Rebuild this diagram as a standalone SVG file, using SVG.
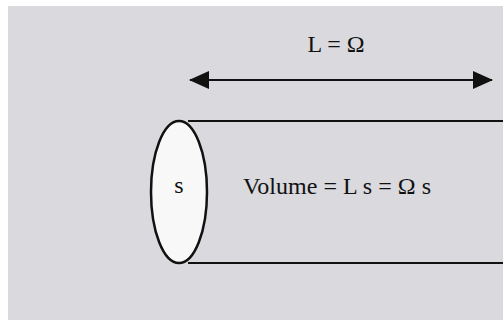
<svg xmlns="http://www.w3.org/2000/svg" width="503" height="320" viewBox="0 0 503 320">
<style>
.t{font-family:"Liberation Serif","Times New Roman",serif;font-size:24px;fill:#111}
.ln{stroke:#111;stroke-width:2;fill:none}
</style>
<defs>
<marker id="ah2" markerWidth="20" markerHeight="18" refX="19" refY="9" orient="auto-start-reverse" markerUnits="userSpaceOnUse" viewBox="0 0 20 18">
<path d="M0,0 L20,9 L0,18 z" fill="#111"/>
</marker>
</defs>
<rect x="0" y="0" width="503" height="320" fill="#ffffff"/>
<rect x="8" y="6" width="495" height="314" fill="#d9d9de"/>
<g id="connectors">
<line class="ln" x1="190" y1="80" x2="492" y2="80" stroke-width="2.5" marker-start="url(#ah2)" marker-end="url(#ah2)"/>
</g>
<g id="tube">
<line class="ln" x1="188" y1="121" x2="503" y2="121"/>
<line class="ln" x1="188" y1="263" x2="503" y2="263"/>
</g>
<g id="section">
<ellipse cx="179" cy="192" rx="28" ry="71" fill="#f8f8f8" stroke="#111" stroke-width="2.5"/>
<text class="t" x="179" y="193" text-anchor="middle">s</text>
</g>
<g id="labels">
<text class="t" x="336" y="52" text-anchor="middle">L = Ω</text>
<text class="t" x="243" y="194" textLength="188" lengthAdjust="spacing">Volume = L s = Ω s</text>
</g>
</svg>
